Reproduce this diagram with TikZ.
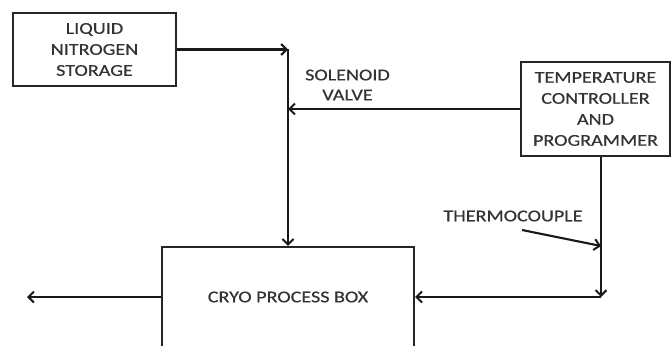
\documentclass[tikz,border=0pt]{standalone}
\usepackage{fontspec}
\setmainfont{Carlito}[FakeStretch=1.22,FakeBold=0.6]
\usetikzlibrary{arrows.meta}
\begin{document}
\begin{tikzpicture}[x=1pt,y=-1pt,
  line width=2.1pt,
  box/.style={draw=black!85, line width=2.2pt, rectangle, inner sep=0pt, align=center,
    font=\fontsize{16.5}{21}\selectfont, text=black!80},
  lbl/.style={align=center, font=\fontsize{16.5}{20}\selectfont, text=black!80, inner sep=0pt},
  arr/.style={draw=black!90, -{Straight Barb[length=5.5pt,width=11pt,line width=2pt]}}]
\useasboundingbox (0,0) rectangle (671,345);
\clip (0,0) rectangle (671,345);
\node[box, minimum width=163pt, minimum height=73pt] (ln) at (94.5,49.5) {LIQUID\\NITROGEN\\STORAGE};
\node[box, minimum width=149pt, minimum height=94pt] (ctrl) at (595.5,109) {TEMPERATURE\\CONTROLLER\\AND\\PROGRAMMER};
\node[box, minimum width=252pt, minimum height=100pt] (cryo) at (288,297) {CRYO PROCESS BOX};
\node[lbl] (sv) at (347.5,85) {SOLENOID\\VALVE};
\node[lbl] (tcl) at (513,216) {THERMOCOUPLE};
\coordinate (j1) at (288,49.5);
\coordinate (cj) at (601,297);
\coordinate (out) at (27,297);
\coordinate (tc) at (522,230);
\coordinate (tcend) at (601,246);
\draw[arr] (ln.east |- j1) -- (j1);
\draw[arr] (j1) -- (j1 |- cryo.north);
\draw[arr] (ctrl.west) -- (ctrl.west -| j1);
\draw[arr] (cj |- ctrl.south) -- (cj);
\draw[arr] (cj) -- (cryo.east |- cj);
\draw[arr] (cryo.west |- cj) -- (out);
\draw[arr] (tc) -- (tcend);
\end{tikzpicture}
\end{document}
